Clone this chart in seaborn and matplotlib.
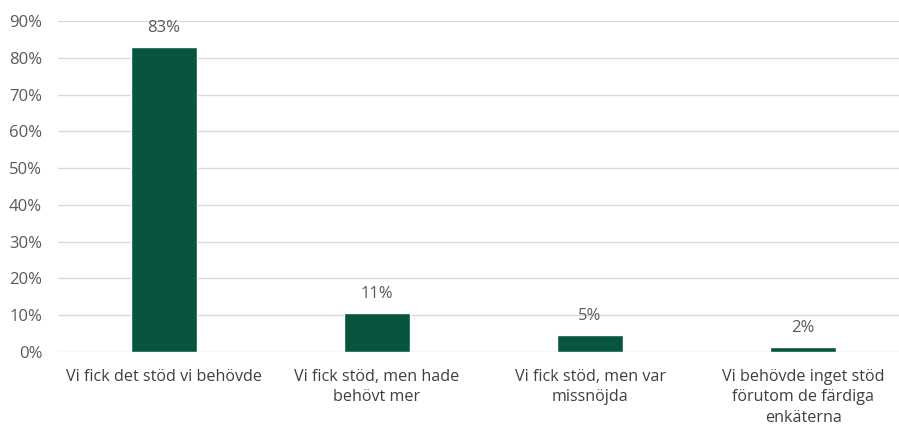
import matplotlib
matplotlib.use("Agg")
import matplotlib.pyplot as plt
import seaborn as sns
import pandas as pd

categories = [
    "Vi fick det stöd vi behövde",
    "Vi fick stöd, men hade\nbehövt mer",
    "Vi fick stöd, men var\nmissnöjda",
    "Vi behövde inget stöd\nförutom de färdiga\nenkäterna",
]
values = [82.9, 10.6, 4.5, 1.4]
value_labels = ["83%", "11%", "5%", "2%"]
yticks = [0, 10, 20, 30, 40, 50, 60, 70, 80, 90]

sns.set_theme(style="white")
plt.rcParams["font.family"] = ["Open Sans", "DejaVu Sans"]

df = pd.DataFrame({"cat": categories, "val": values})

W, H = 899, 425
fig = plt.figure(figsize=(W / 100, H / 100), dpi=100)
ax = fig.add_axes([57.5 / W, (H - 352) / H, (899 - 57.5) / W, (352 - 21) / H])

sns.barplot(data=df, x="cat", y="val", color="#07543F", saturation=1, width=0.31, ax=ax, zorder=3)

ax.set_ylim(0, 90)
ax.set_xlim(-0.5, 3.45)
ax.set_yticks(yticks)
ax.set_yticklabels([f"{t}%" for t in yticks], color="#595959", fontsize=12)
ax.tick_params(axis="y", length=0, pad=11)
ax.tick_params(axis="x", length=0, pad=12)
for lbl in ax.get_xticklabels():
    lbl.set_color("#404040")
    lbl.set_fontsize(11.6)
    lbl.set_linespacing(1.38)
ax.set_xlabel("")
ax.set_ylabel("")
ax.grid(axis="y", color="#D9D9D9", linewidth=1, zorder=0)
for s in ax.spines.values():
    s.set_visible(False)

for i, (v, t) in enumerate(zip(values, value_labels)):
    ax.annotate(t, (i, v), xytext=(0, 13.7), textcoords="offset points",
                ha="center", va="center", color="#595959", fontsize=12)

fig.savefig("out.png", dpi=100)
